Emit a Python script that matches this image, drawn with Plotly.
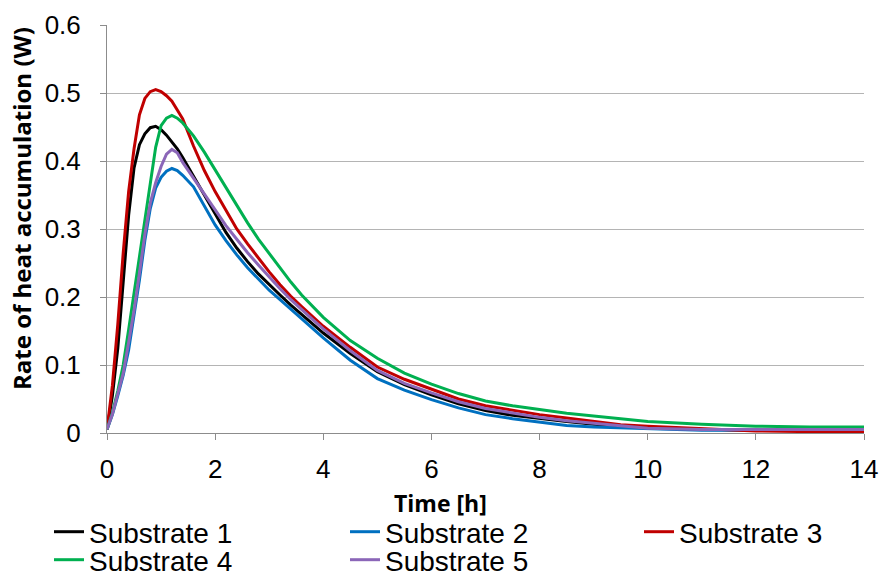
import plotly.graph_objects as go

hours = [0, 0.1, 0.2, 0.3, 0.4, 0.5, 0.6, 0.7, 0.8, 0.9, 1.0, 1.1, 1.2, 1.3, 1.4,
         1.6, 1.8, 2.0, 2.2, 2.4, 2.6, 2.8, 3.0, 3.2, 3.4, 3.6, 3.8, 4.0, 4.5, 5.0,
         5.5, 6.0, 6.5, 7.0, 7.5, 8.0, 8.5, 9.0, 9.5, 10, 11, 12, 13, 14]

substrate_1 = [0.005, 0.055, 0.125, 0.225, 0.32, 0.39, 0.424, 0.44, 0.449, 0.451, 0.446,
               0.438, 0.428, 0.418, 0.405, 0.377, 0.349, 0.321, 0.295, 0.272, 0.252,
               0.234, 0.218, 0.203, 0.188, 0.174, 0.160, 0.147, 0.117, 0.090, 0.071,
               0.056, 0.043, 0.033, 0.026, 0.021, 0.017, 0.013, 0.010, 0.008, 0.005,
               0.004, 0.003, 0.003]
substrate_2 = [0.005, 0.027, 0.055, 0.085, 0.122, 0.172, 0.225, 0.283, 0.33, 0.36, 0.376,
               0.385, 0.389, 0.386, 0.379, 0.362, 0.335, 0.306, 0.283, 0.262, 0.243,
               0.226, 0.210, 0.196, 0.182, 0.168, 0.154, 0.140, 0.107, 0.080, 0.063,
               0.049, 0.037, 0.027, 0.021, 0.016, 0.011, 0.009, 0.008, 0.006, 0.004,
               0.004, 0.004, 0.004]
substrate_3 = [0.005, 0.07, 0.16, 0.265, 0.355, 0.418, 0.468, 0.492, 0.502, 0.505, 0.502,
               0.496, 0.488, 0.476, 0.462, 0.422, 0.386, 0.355, 0.327, 0.300, 0.278,
               0.257, 0.237, 0.218, 0.201, 0.186, 0.171, 0.157, 0.126, 0.097, 0.079,
               0.064, 0.050, 0.040, 0.033, 0.027, 0.022, 0.017, 0.012, 0.010, 0.006,
               0.003, 0.002, 0.002]
substrate_4 = [0.005, 0.03, 0.062, 0.10, 0.152, 0.205, 0.258, 0.312, 0.367, 0.42, 0.452,
               0.463, 0.467, 0.463, 0.456, 0.437, 0.413, 0.387, 0.360, 0.334, 0.309,
               0.285, 0.264, 0.243, 0.222, 0.203, 0.186, 0.170, 0.136, 0.110, 0.088,
               0.072, 0.058, 0.047, 0.040, 0.034, 0.029, 0.025, 0.021, 0.017, 0.013,
               0.010, 0.009, 0.009]
substrate_5 = [0.005, 0.028, 0.058, 0.088, 0.133, 0.18, 0.235, 0.292, 0.338, 0.368, 0.392,
               0.41, 0.417, 0.412, 0.398, 0.375, 0.352, 0.328, 0.305, 0.285, 0.265,
               0.247, 0.229, 0.212, 0.196, 0.181, 0.167, 0.153, 0.121, 0.092, 0.073,
               0.059, 0.046, 0.036, 0.029, 0.023, 0.018, 0.014, 0.010, 0.007, 0.005,
               0.005, 0.005, 0.005]

names = ["Substrate 1", "Substrate 2", "Substrate 3", "Substrate 4", "Substrate 5"]
series = [substrate_1, substrate_2, substrate_3, substrate_4, substrate_5]
colors = ["#000000", "#0070C0", "#C00000", "#00B050", "#8B66B8"]
legend_ids = ["legend", "legend2", "legend3", "legend4", "legend5"]

x_ticks = [0, 2, 4, 6, 8, 10, 12, 14]
y_ticks = [0, 0.1, 0.2, 0.3, 0.4, 0.5, 0.6]
y_tick_text = ["0", "0.1", "0.2", "0.3", "0.4", "0.5", "0.6"]

fig = go.Figure()
for name, vals, col, lg in zip(names, series, colors, legend_ids):
    fig.add_trace(go.Scatter(x=hours, y=vals, mode="lines", name=name,
                             line=dict(color=col, width=3), legend=lg))

W, H = 883, 581
L, R, T, B = 107, 19, 25, 148
pw, ph = W - L - R, H - T - B


def px_x(p):
    return (p - L) / pw


def px_y(p):
    return (H - B - p) / ph


legend_font = dict(family="Liberation Sans, Arial, sans-serif", size=28, color="#000000")
col_x = [49, 345, 639]
row_y = [532, 560]
positions = [(0, 0), (1, 0), (2, 0), (0, 1), (1, 1)]
legend_layout = {}
for lg, (c, r) in zip(legend_ids, positions):
    legend_layout[lg] = dict(x=px_x(col_x[c]), y=px_y(row_y[r]), xanchor="left",
                             yanchor="middle", font=legend_font, bgcolor="rgba(0,0,0,0)",
                             borderwidth=0, itemwidth=30)

tick_font = dict(family="Liberation Sans, Arial, sans-serif", size=26, color="#000000")
title_font = dict(family="Open Sans, sans-serif", size=24, color="#000000")

fig.update_layout(
    width=W, height=H,
    margin=dict(l=L, r=R, t=T, b=B, autoexpand=False),
    paper_bgcolor="white", plot_bgcolor="white",
    showlegend=True,
    xaxis=dict(range=[0, 14], tickvals=x_ticks, ticktext=[str(v) for v in x_ticks],
               showgrid=False, zeroline=False, showline=True, linecolor="#8C8C8C",
               linewidth=1, ticks="outside", ticklen=6, tickcolor="#8C8C8C",
               tickfont=tick_font, ticklabelstandoff=7),
    yaxis=dict(range=[0, 0.6], tickvals=y_ticks, ticktext=y_tick_text,
               showgrid=True, gridcolor="#B4B4B4", gridwidth=1, zeroline=False,
               showline=True, linecolor="#8C8C8C", linewidth=1, ticks="outside",
               ticklen=6, tickcolor="#8C8C8C", tickfont=tick_font,
               ticklabelstandoff=14),
    annotations=[
        dict(text="<b>Time [h]</b>", x=px_x(440), y=px_y(503), xref="paper", yref="paper",
             xanchor="center", yanchor="middle", showarrow=False,
             font=dict(family="Open Sans, sans-serif", size=23, color="#000000")),
        dict(text="<b>Rate of heat accumulation (W)</b>", x=px_x(22), y=px_y(209),
             xref="paper", yref="paper", xanchor="center", yanchor="middle",
             textangle=-90, showarrow=False, font=title_font),
    ],
    **legend_layout,
)

fig.write_html("out.html", config={"displayModeBar": False},
               post_script="document.body.style.margin='0px';document.body.style.overflow='hidden';")
